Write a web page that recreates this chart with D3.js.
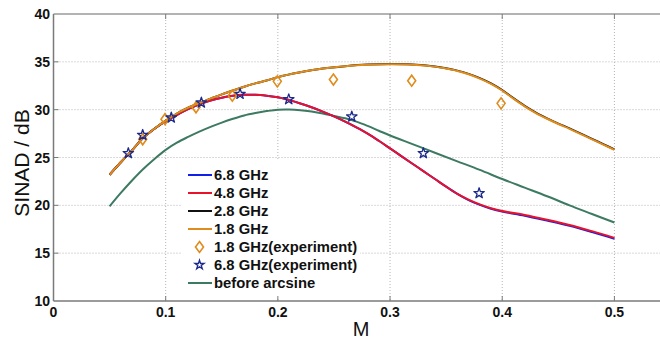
<!DOCTYPE html>
<html><head><meta charset="utf-8">
<script src="https://cdn.jsdelivr.net/npm/d3@7"></script>
<style>
html,body{margin:0;padding:0;background:#fff;}
svg text{font-family:"Liberation Sans",Arial,sans-serif;}
</style></head>
<body><svg id="c" width="660" height="340"></svg>
<script>
const xTicks = [0, 0.1, 0.2, 0.3, 0.4, 0.5];
const yTicks = [10, 15, 20, 25, 30, 35, 40];

const mGrid = [0.05,0.06,0.07,0.08,0.09,0.10,0.11,0.12,0.13,0.14,0.15,0.16,0.17,0.18,0.19,0.20,0.22,0.24,0.26,0.28,0.30,0.32,0.34,0.35,0.36,0.37,0.38,0.39,0.40,0.41,0.42,0.43,0.44,0.45,0.46,0.47,0.48,0.49,0.50];
const ghz18 = [23.2,24.5,25.75,27.05,28.0,28.85,29.6,30.2,30.7,31.15,31.6,32.0,32.4,32.75,33.05,33.4,33.9,34.3,34.55,34.7,34.75,34.7,34.5,34.3,34.05,33.7,33.25,32.7,32.0,31.15,30.35,29.65,29.05,28.5,28.0,27.45,26.9,26.35,25.8];
const ghz28 = [23.2,24.5,25.75,27.05,28.0,28.85,29.6,30.2,30.7,31.15,31.6,32.0,32.4,32.75,33.05,33.4,33.9,34.3,34.55,34.72,34.77,34.72,34.52,34.33,34.08,33.74,33.3,32.75,32.05,31.2,30.4,29.7,29.1,28.55,28.05,27.5,26.95,26.4,25.85];

const mLow = [0.05,0.06,0.07,0.08,0.09,0.10,0.11,0.12,0.13,0.14,0.15,0.16,0.17,0.18,0.19,0.20,0.21,0.22,0.23,0.24,0.25,0.26,0.27,0.28,0.29,0.30,0.31,0.32,0.33,0.34,0.35,0.36,0.37,0.38,0.39,0.40,0.42,0.44,0.46,0.48,0.50];
const ghz48 = [23.2,24.5,25.75,27.05,28.0,28.8,29.45,30.05,30.55,30.95,31.25,31.45,31.55,31.55,31.45,31.3,31.0,30.65,30.25,29.8,29.3,28.75,28.15,27.5,26.75,25.95,25.15,24.35,23.55,22.75,21.95,21.2,20.6,20.1,19.7,19.4,19.0,18.5,17.95,17.3,16.6];
const ghz68 = [23.2,24.5,25.75,27.05,28.0,28.8,29.45,30.05,30.55,30.95,31.25,31.45,31.55,31.55,31.45,31.3,31.0,30.65,30.25,29.8,29.3,28.75,28.15,27.5,26.75,25.95,25.15,24.35,23.55,22.75,21.95,21.2,20.55,20.05,19.65,19.35,18.92,18.4,17.85,17.2,16.5];

const mGreen = [0.05,0.06,0.07,0.08,0.09,0.10,0.11,0.12,0.13,0.14,0.15,0.16,0.17,0.18,0.19,0.20,0.21,0.22,0.23,0.24,0.25,0.26,0.27,0.28,0.29,0.30,0.32,0.34,0.36,0.38,0.40,0.42,0.44,0.46,0.48,0.50];
const beforeArcsine = [19.9,21.3,22.6,23.8,24.85,25.8,26.55,27.15,27.7,28.2,28.65,29.05,29.4,29.65,29.85,30.0,30.02,29.95,29.8,29.6,29.35,29.1,28.75,28.3,27.8,27.3,26.4,25.5,24.6,23.7,22.75,21.85,20.95,20.0,19.1,18.2];

const exp18M = [0.0795,0.0994,0.127,0.1594,0.1995,0.2495,0.3193,0.399];
const exp18V = [26.9,29.0,30.25,31.46,32.96,33.15,33.03,30.66];
const exp68M = [0.0667,0.0795,0.105,0.1318,0.1663,0.2097,0.2659,0.3297,0.3794];
const exp68V = [25.44,27.35,29.16,30.73,31.64,31.08,29.27,25.44,21.26];

const legendLabels = ["6.8 GHz","4.8 GHz","2.8 GHz","1.8 GHz","1.8 GHz(experiment)","6.8 GHz(experiment)","before arcsine"];

const C = {blue:"#1020e8", red:"#e8122a", black:"#111111", orange:"#e08c1c", green:"#3d7a62", star:"#1c2a8c", diamond:"#e08c1c"};

const svg = d3.select("#c");
const x = d3.scaleLinear().domain([0,0.55]).range([53.5,670.5]);
const y = d3.scaleLinear().domain([10,40]).range([301,14]);
const L = 53.5, R = 660, T = 14, B = 301;

svg.append("defs").append("clipPath").attr("id","clip").append("rect")
  .attr("x",L).attr("y",T).attr("width",R-L).attr("height",B-T);

// grid
const g = svg.append("g");
g.selectAll(".gx").data(xTicks.slice(1)).join("line")
  .attr("x1",d=>x(d)).attr("x2",d=>x(d)).attr("y1",T).attr("y2",B)
  .attr("stroke","#b4b4b4").attr("stroke-width",1).attr("stroke-dasharray","1,2");
g.selectAll(".gy").data(yTicks.slice(1,-1)).join("line")
  .attr("y1",d=>y(d)).attr("y2",d=>y(d)).attr("x1",L).attr("x2",R)
  .attr("stroke","#b4b4b4").attr("stroke-width",1).attr("stroke-dasharray","1,2");

const plot = svg.append("g").attr("clip-path","url(#clip)");
const line = d3.line().x(d=>x(d[0])).y(d=>y(d[1])).curve(d3.curveCatmullRom.alpha(0.5));
function series(ms, vs, col, w){
  plot.append("path").datum(ms.map((m,i)=>[m,vs[i]])).attr("d",line)
    .attr("fill","none").attr("stroke",col).attr("stroke-width",w).attr("stroke-linejoin","round");
}
series(mGreen, beforeArcsine, C.green, 2);
series(mLow, ghz68, C.blue, 2);
series(mLow, ghz48, C.red, 2);
series(mGrid, ghz28, C.black, 2);
series(mGrid, ghz18, C.orange, 2);

function diamondPath(cx, cy){ const p=d3.path(); p.moveTo(cx,cy-5.5); p.lineTo(cx+4,cy); p.lineTo(cx,cy+5.5); p.lineTo(cx-4,cy); p.closePath(); return p.toString(); }
const star = d3.symbol().type(d3.symbolStar).size(34);
plot.selectAll(".dm").data(exp18M.map((m,i)=>[m,exp18V[i]])).join("path")
  .attr("d",d=>diamondPath(x(d[0]),y(d[1]))).attr("fill","none").attr("stroke",C.diamond).attr("stroke-width",1.6);
plot.selectAll(".st").data(exp68M.map((m,i)=>[m,exp68V[i]])).join("path")
  .attr("d",star).attr("transform",d=>`translate(${x(d[0])},${y(d[1])})`)
  .attr("fill","none").attr("stroke",C.star).attr("stroke-width",1.3).attr("stroke-linejoin","round");

// legend
const lg = svg.append("g");
lg.append("rect").attr("x",182).attr("y",161).attr("width",178).attr("height",136).attr("fill","#fff");
const lcols = [C.blue,C.red,C.black,C.orange,null,null,C.green];
legendLabels.forEach((t,i)=>{
  const cy = 175 + i*18;
  if(lcols[i]) lg.append("line").attr("x1",188).attr("x2",212).attr("y1",cy).attr("y2",cy).attr("stroke",lcols[i]).attr("stroke-width",2);
  else if(i===4) lg.append("path").attr("d",diamondPath(199.5,cy)).attr("fill","none").attr("stroke",C.diamond).attr("stroke-width",1.6);
  else lg.append("path").attr("d",d3.symbol().type(d3.symbolStar).size(26)()).attr("transform",`translate(199.5,${cy})`).attr("fill","none").attr("stroke",C.star).attr("stroke-width",1.3);
  lg.append("text").attr("x",214).attr("y",cy).attr("dy","0.36em").attr("font-size",14.8).attr("font-weight","bold").attr("fill","#111").text(t);
});

// axes
const ax = svg.append("g");
ax.append("line").attr("x1",L).attr("x2",R).attr("y1",B).attr("y2",B).attr("stroke","#7a7a7a").attr("stroke-width",1.5);
ax.append("line").attr("x1",L).attr("x2",R).attr("y1",T).attr("y2",T).attr("stroke","#9a9a9a").attr("stroke-width",1.5);
ax.append("line").attr("x1",L).attr("x2",L).attr("y1",T).attr("y2",B).attr("stroke","#7a7a7a").attr("stroke-width",1.5);
ax.selectAll(".tb").data(xTicks.slice(1)).join("line").attr("x1",d=>x(d)).attr("x2",d=>x(d)).attr("y1",B).attr("y2",B-5).attr("stroke","#7a7a7a");
ax.selectAll(".tt").data(xTicks.slice(1)).join("line").attr("x1",d=>x(d)).attr("x2",d=>x(d)).attr("y1",T).attr("y2",T+5).attr("stroke","#7a7a7a");
ax.selectAll(".tl").data(yTicks.slice(1,-1)).join("line").attr("x1",L).attr("x2",L+5).attr("y1",d=>y(d)).attr("y2",d=>y(d)).attr("stroke","#7a7a7a");
ax.selectAll(".xl").data(xTicks).join("text").attr("x",d=>x(d)).attr("y",317).attr("text-anchor","middle")
  .attr("font-size",14).attr("font-weight","bold").attr("fill","#111").text(d=>d===0?"0":d3.format(".1f")(d));
ax.selectAll(".yl").data(yTicks).join("text").attr("x",50).attr("y",d=>y(d)).attr("dy","0.36em").attr("text-anchor","end")
  .attr("font-size",14).attr("font-weight","bold").attr("fill","#111").text(d=>d);
svg.append("text").attr("x",361).attr("y",336).attr("text-anchor","middle").attr("font-size",20).attr("fill","#111").text("M");
svg.append("text").attr("transform","translate(29,163) rotate(-90)").attr("text-anchor","middle").attr("font-size",21).attr("fill","#111").text("SINAD / dB");
</script></body></html>
